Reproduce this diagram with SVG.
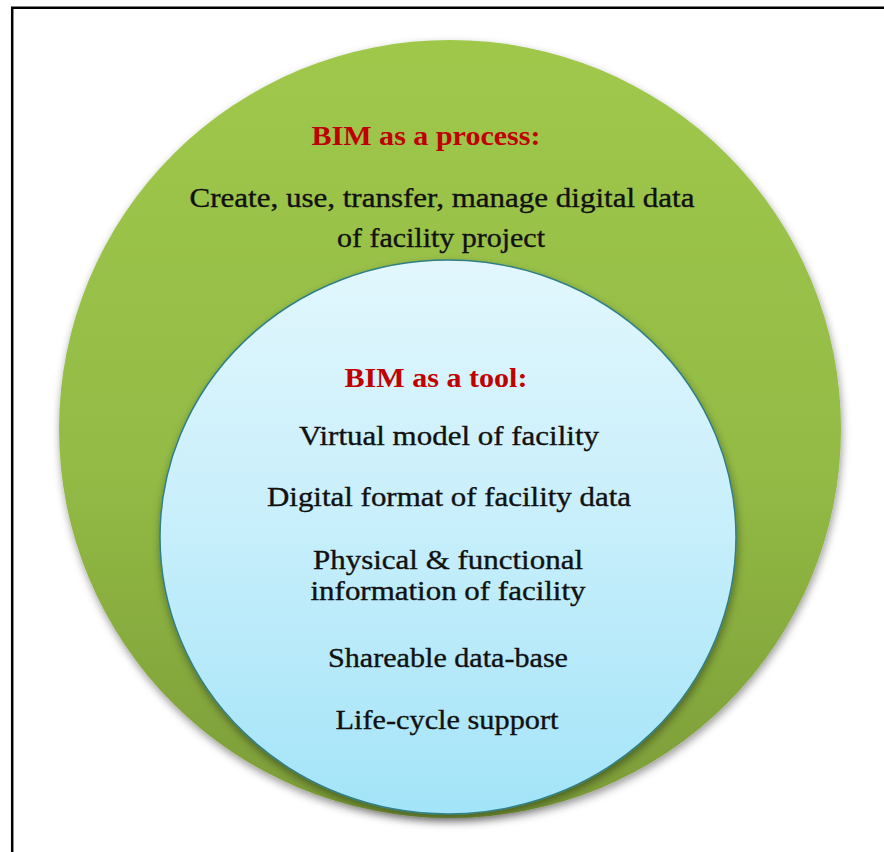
<svg xmlns="http://www.w3.org/2000/svg" width="884" height="852" viewBox="0 0 884 852">
  <defs>
    <linearGradient id="gGreen" x1="0" y1="0" x2="0" y2="1">
      <stop offset="0" stop-color="#9fc84c"/>
      <stop offset="0.55" stop-color="#93bb45"/>
      <stop offset="1" stop-color="#7c9c38"/>
    </linearGradient>
    <linearGradient id="gBlue" x1="0" y1="0" x2="0" y2="1">
      <stop offset="0" stop-color="#e2f7fd"/>
      <stop offset="0.5" stop-color="#c6eefb"/>
      <stop offset="1" stop-color="#a3e4f8"/>
    </linearGradient>
    <filter id="shadow" x="-10%" y="-10%" width="120%" height="125%">
      <feDropShadow dx="1" dy="4" stdDeviation="4" flood-color="#000" flood-opacity="0.4"/>
    </filter>
    <style>
      .t { font-family: "Liberation Serif", "Times New Roman", serif; font-size: 27px; fill: #111; stroke: #111; stroke-width: 0.35; text-anchor: middle; }
      .h { font-family: "Liberation Serif", "Times New Roman", serif; font-size: 27px; font-weight: bold; fill: #c00000; text-anchor: middle; }
    </style>
  </defs>
  <rect width="884" height="852" fill="#ffffff"/>
  <path d="M12.2,852 V7.7 H884" fill="none" stroke="#000" stroke-width="2.5"/>

  <g id="process">
    <ellipse cx="450" cy="429" rx="391" ry="389" fill="url(#gGreen)" filter="url(#shadow)"/>
    <text class="h" x="426" y="145" textLength="229" lengthAdjust="spacingAndGlyphs">BIM as a process:</text>
    <text class="t" x="442" y="207" textLength="505" lengthAdjust="spacingAndGlyphs">Create, use, transfer, manage digital data</text>
    <text class="t" x="441" y="247" textLength="208" lengthAdjust="spacingAndGlyphs">of facility project</text>
  </g>

  <g id="tool">
    <ellipse cx="448" cy="537" rx="288" ry="277" fill="url(#gBlue)" stroke="#2f7f86" stroke-width="1.5" filter="url(#shadow)"/>
    <text class="h" x="436" y="387" textLength="183" lengthAdjust="spacingAndGlyphs">BIM as a tool:</text>
    <text class="t" x="449" y="445" textLength="300" lengthAdjust="spacingAndGlyphs">Virtual model of facility</text>
    <text class="t" x="449" y="506" textLength="364" lengthAdjust="spacingAndGlyphs">Digital format of facility data</text>
    <text class="t" x="448" y="569" textLength="270" lengthAdjust="spacingAndGlyphs">Physical &amp; functional</text>
    <text class="t" x="448" y="600" textLength="275" lengthAdjust="spacingAndGlyphs">information of facility</text>
    <text class="t" x="448" y="667" textLength="240" lengthAdjust="spacingAndGlyphs">Shareable data-base</text>
    <text class="t" x="447" y="729" textLength="223" lengthAdjust="spacingAndGlyphs">Life-cycle support</text>
  </g>

  <g id="connectors"/>
</svg>
